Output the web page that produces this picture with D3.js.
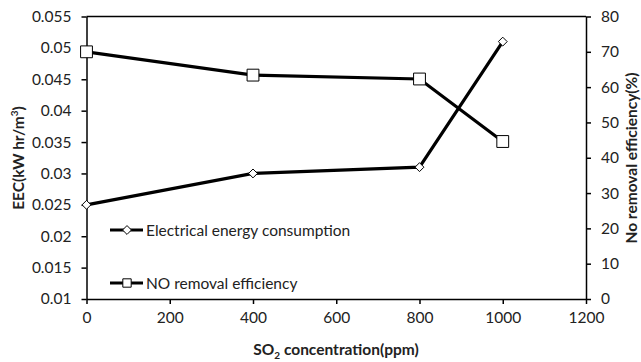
<!DOCTYPE html>
<html>
<head>
<meta charset="utf-8">
<script src="https://cdn.jsdelivr.net/npm/d3@7"></script>
<style>
  body { margin: 0; background: #fff; }
  text { font-family: Lato, "Open Sans", sans-serif; fill: #222; }
</style>
</head>
<body>
<svg id="chart" width="641" height="362"></svg>
<script>
// data
const so2 = [0, 400, 800, 1000];
const eec = [0.025, 0.030, 0.031, 0.051];
const noRemoval = [70, 63.4, 62.3, 44.6];
const leftTicks = [0.01, 0.015, 0.02, 0.025, 0.03, 0.035, 0.04, 0.045, 0.05, 0.055];
const rightTicks = [0, 10, 20, 30, 40, 50, 60, 70, 80];
const xTicks = [0, 200, 400, 600, 800, 1000, 1200];

const svg = d3.select("#chart");
const MARGINS = {top: 16.5, right: 55, bottom: 63, left: 86.5};
const WIDTH = 641, HEIGHT = 362;

const xScale = d3.scaleLinear().domain([0, 1200]).range([MARGINS.left, WIDTH - MARGINS.right]);
const yLeft = d3.scaleLinear().domain([0.01, 0.055]).range([HEIGHT - MARGINS.bottom, MARGINS.top]);
const yRight = d3.scaleLinear().domain([0, 80]).range([HEIGHT - MARGINS.bottom, MARGINS.top]);

const xAxis = d3.axisBottom(xScale).tickValues(xTicks).tickFormat(d => String(d)).tickSize(5).tickSizeOuter(0).tickPadding(8);
const leftAxis = d3.axisLeft(yLeft).tickValues(leftTicks).tickFormat(d => String(+d.toFixed(3))).tickSize(5).tickSizeOuter(0).tickPadding(10);
const rightAxis = d3.axisRight(yRight).tickValues(rightTicks).tickFormat(d => String(d)).tickSize(5).tickSizeOuter(0).tickPadding(10);

function styleAxis(g) {
  g.selectAll("path, line").attr("stroke", "#000").attr("stroke-width", 1.5);
  g.selectAll("text").style("font-family", "Lato, sans-serif").style("font-size", "15.5px").attr("fill", "#222");
}

// top border
svg.append("line")
  .attr("x1", MARGINS.left).attr("x2", WIDTH - MARGINS.right)
  .attr("y1", MARGINS.top).attr("y2", MARGINS.top)
  .attr("stroke", "#000").attr("stroke-width", 1.5);

svg.append("g").attr("transform", "translate(0," + (HEIGHT - MARGINS.bottom) + ")").call(xAxis).call(styleAxis);
svg.append("g").attr("transform", "translate(" + MARGINS.left + ",0)").call(leftAxis).call(styleAxis);
svg.append("g").attr("transform", "translate(" + (WIDTH - MARGINS.right) + ",0)").call(rightAxis).call(styleAxis);

// axis titles
svg.append("text")
  .attr("text-anchor", "middle")
  .attr("transform", "translate(24," + 158 + ")rotate(-90)")
  .style("font-size", "15.5px").style("font-weight", "bold")
  .html('EEC(kW hr/m<tspan font-size="10" dy="-6">3</tspan><tspan dy="6">)</tspan>');
svg.append("text")
  .attr("text-anchor", "middle")
  .attr("transform", "translate(637," + 158 + ")rotate(-90)")
  .style("font-size", "15.5px").style("font-weight", "bold")
  .text("No removal efficiency(%)");
svg.append("text")
  .attr("text-anchor", "middle")
  .attr("x", 336).attr("y", 355)
  .style("font-size", "15.5px").style("font-weight", "bold")
  .html('SO<tspan font-size="10" dy="4">2</tspan><tspan dy="-4"> concentration(ppm)</tspan>');

// lines
const eecLine = d3.line().x((d, i) => xScale(so2[i])).y(d => yLeft(d));
const noLine = d3.line().x((d, i) => xScale(so2[i])).y(d => yRight(d));

svg.append("path").attr("d", eecLine(eec)).attr("fill", "none").attr("stroke", "#000").attr("stroke-width", 3.2);
svg.append("path").attr("d", noLine(noRemoval)).attr("fill", "none").attr("stroke", "#000").attr("stroke-width", 3.2);

const diamond = d3.symbol().type(d3.symbolDiamond2).size(50);
const square = d3.symbol().type(d3.symbolSquare).size(140);

svg.append("g").selectAll("path").data(eec).enter().append("path")
  .attr("d", diamond)
  .attr("transform", (d, i) => "translate(" + xScale(so2[i]) + "," + yLeft(d) + ")")
  .attr("fill", "#fff").attr("stroke", "#000").attr("stroke-width", 1);
svg.append("g").selectAll("path").data(noRemoval).enter().append("path")
  .attr("d", square)
  .attr("transform", (d, i) => "translate(" + xScale(so2[i]) + "," + yRight(d) + ")")
  .attr("fill", "#fff").attr("stroke", "#000").attr("stroke-width", 1);

// legend
const legend = [
  {label: "Electrical energy consumption", sym: diamond, y: 230},
  {label: "NO removal efficiency", sym: d3.symbol().type(d3.symbolSquare).size(70), y: 283}
];
legend.forEach(l => {
  svg.append("line").attr("x1", 110).attr("x2", 143).attr("y1", l.y).attr("y2", l.y)
    .attr("stroke", "#000").attr("stroke-width", 3.2);
  svg.append("path").attr("d", l.sym())
    .attr("transform", "translate(127," + l.y + ")")
    .attr("fill", "#fff").attr("stroke", "#000").attr("stroke-width", 1);
  svg.append("text").attr("x", 146).attr("y", l.y + 5.5)
    .style("font-size", "15.5px").text(l.label);
});
</script>
</body>
</html>
